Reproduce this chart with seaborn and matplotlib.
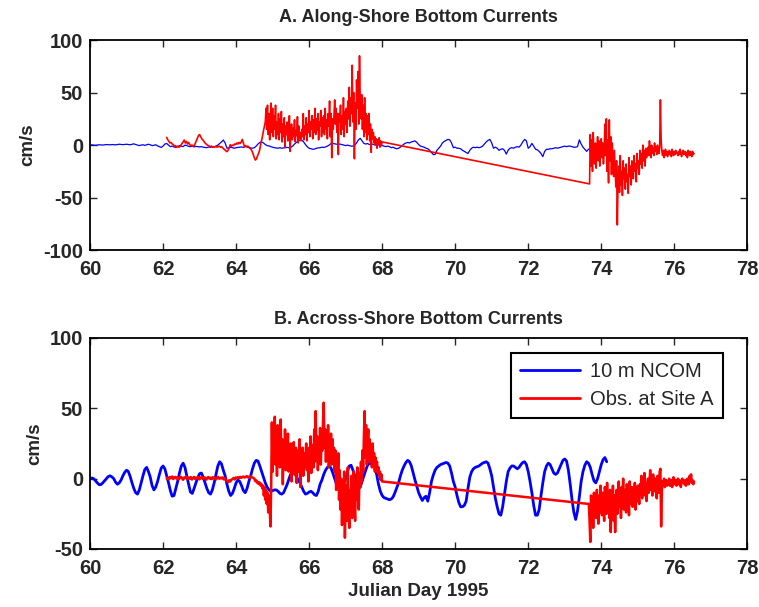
import numpy as np
import pandas as pd
import matplotlib
matplotlib.use("Agg")
import matplotlib.pyplot as plt
import seaborn as sns

# ---------------- data (cm/s) ----------------
# Along-shore NCOM (blue, panel A), sampled every 0.05 day from day 60.00
along_ncom_start, along_ncom_step = 60.0, 0.05
along_ncom = [
    0, 0.2, 0, -0.3, 0, 0.3, 0.2, 0, 0.3, 0.5, 0.3, 0.2, 0.5, 0.4, 0.2, 0.5, 0.8, 0.6, 0.4, 0.6,
    0.8, 0.5, 0.3, 0.7, 1.2, 0.5, 0, -0.5, 0, 0.3, -0.3, 0.2, 0.8, 0.3, -0.5, -0.2, 0.3, -0.8, -1.5, -2.2,
    -1, 1, 1.5, 0, -1.5, -1, -1.8, -2.2, -1.5, -0.5, -1, -1.5, 0, -0.5, -1.2, -1.5, -1, -1.8, -1.2, -1.5,
    -1.8, -1.5, -2, -2.2, -2.5, -1.8, -2.2, -1.5, -2, -1, 0, 1.5, 3, 4.8, 2, -3, -2.5, -2, -2.5, -3,
    -2.5, -2.2, -2, -1.8, -2.2, -1.5, -1.8, -2.5, -2.8, -3, -2.5, -1, 1, 2.5, 3, 2, 0.5, -0.5, -0.8, -1.5,
    -2, -2.5, -2.8, -3, -2.5, -3, -2.8, -2.5, -2.2, -2.5, -2, -1, 1, 2.5, 3.8, 4.5, 4.8, 3, 0.5, -1.6,
    -3, -3.5, -4, -3.8, -3, -2.8, -2.5, -2, -2.2, -1.8, -1, 0, 1.5, 1.6, 1.2, 0.8, 1, 0.9, 0.5, 0,
    -0.5, 0, -0.5, -1, -1, 0, 2, 5, 6.4, 4, 1.6, 1, 1.5, 0.5, 1, 0.8, 0, 0.5, 0, -0.5,
    -0.5, -1, -1.5, -1, -1.5, -2.5, -2, -3, -3.5, -3, -2, -0.5, 1, 2, 2.5, 2, 3, 3.5, 4, 2.5,
    0.5, -1, -1.5, -2, -3, -3.5, -5, -7, -9, -9, -5, -3, -1, 2, 3.5, 4.5, 5.4, 5, 2, -2.5,
    -2, -3, -3, -3.5, -5, -6, -7, -8, -5, -3, -2, -2.5, -2, -2.5, -2, -1, 1, 3, 4.5, 5.4,
    2, -3, -2, -3, -5, -4, -3.5, -5, -8.6, -5, -3, -2.5, -3, -2, -1.5, -2, 0, 3, 5.4, 4,
    -3, -1.5, 1.6, -1, -4, -4.5, -6, -8, -11, -6, -4, -4, -3.5, -3.5, -3, -2.5, -3, -2.5, -2, -1.5,
    -1, -1.5, -1, -1, -1.5, -2, -2, -1.5, 5, 1, -2, -4, -6, -4, -3, -2, -1, 0, 1.6, 0.5,
    -1, -2,
]

# Along-shore observations (red, panel A): three sampled stretches
along_obs1_start, along_obs1_step = 62.10, 0.03
along_obs1 = [
    7.3, 5, 3.5, 2, 2.5, 1, 0.5, -1, -0.5, -2, -1, -2, -1.5, 0, 1.5, 3, 4.8, 2, 3.5, 1,
    2.5, 0.5, -0.5, 0, -1, -0.5, 1.5, 4, 6.5, 9, 10, 8, 6, 5, 3.5, 2, 1, 0, -0.5, -1,
    -1.5, -1, -2, -1.5, -1.8, -1.2, -2, -1.5, -1, -2, -1.5, -2.5, -3.5, -4.5, -5.5, -6.3, -5, -3, 0.3, -1,
    0, -0.5, 1, 0.5, 2, 1, 2.5, 1.5, 3, 5.4, 2, -1.6, -0.5, -1.5, -1, -2, -3, -4, -6, -9,
    -12, -14.3, -13, -10, -7.6, -4, 2, 6, 12, 17, 22,
]
along_obs2_start, along_obs2_step = 64.82, 0.02
along_obs2 = [
    35, 15, 38, 10, 30, 5, 25, 40, 12,
    35, 8, 28, 15, 38, 6, 22, 10, 30, 5,
    25, 12, 32, 3, 20, 8, 26, -2, 18, 10,
    22, 4, 15, 28, -6, 12, 20, 5, 16, 8,
    24, 3, 14, 9, 27, 2, 18, 6, 12, 4,
    15, 8, 30, 5, 18, 10, 26, 4, 20, 12,
    33, 8, 22, 15, 28, 6, 24, 12, 35, 10,
    25, 14, 30, 5, 22, 18, 33, 8, 26, 12,
    28, 10, 35, 15, 24, 6, 30, 18, 42, 8,
    30, -12, 25, 15, 28, 43, 20, 35, 12, 30,
    -9, 30, 22, 38, 10, 28, 15, 45, 8, 32,
    20, 35, 12, 42, 25, 55, 18, 45, 30, 76,
    22, 50, -13, 40, 15, 62, 35, 70, 20, 85,
    40, 25, 48, 15, 38, 8, 45, 12, 30, 5,
    28, 10, 30, 4, 20, -7, 15, 6, 12, 2,
    8, 0, 6, -3, 5, 1, 7, -2, 4, 0,
    3,
]
along_obs3_start, along_obs3_step = 73.68, 0.02
along_obs3 = [
    -37, 10, -20, 5, -25, 12, -8, -18, 2, -22,
    -5, 8, -15, 4, -20, -2, 6, -12, 2, -18,
    -6, 20, -10, 25, -25, 5, -36, 24, -15, 8,
    -28, 2, -12, -30, -5, -22, -40, -15, -76, -35,
    -20, -45, -10, -38, -25, -48, -15, -32, -22, -42,
    -18, -35, -28, -46, -12, -30, -20, -38, -15, -28,
    -32, -10, -25, -18, -35, -8, -22, -15, -28, -5,
    -18, -8, -22, 0, -15, -5, -20, -3, -12, -8,
    -2, -10, 4, -6, -12, 0, -8, -3, -10, 2,
    -6, -2, -9, 0, -5, -8, -2, 43, 5, -6,
    -10, -5, -12, -7, -4, -10, -6, -11, -8, -5,
    -9, -6, -11, -4, -8, -10, -6, -9, -5, -8,
    -7, -10, -6, -9, -4, -8, -11, -7, -5, -9,
    -8, -6, -10, -7, -12, -5, -8, -10, -6, -9,
    -11, -6, -9, -8,
]

# Across-shore NCOM (blue, panel B), sampled every 0.05 day from day 60.00
across_ncom_start, across_ncom_step = 60.0, 0.05
across_ncom = [
    0, 0.5, 0, -1.5, -3, -4.3, -4.2, -3, -1.5, 0, 1.5, 2, 1.2, 0, -2.5, -4, -3, -1, 2, 4.5,
    6, 5, 1.5, -3, -7, -10, -11, -8, -3, 2, 6.5, 8, 5, 1, -5, -8, -6, -2, 3, 7.5,
    9, 7, 2, -3, -8.5, -12.5, -12, -7, -2, 4, 9, 11, 8, 2, -4, -9.5, -10.5, -7, -3, 0.5,
    3.5, 4, 1, -3, -7, -10, -11, -8, -3, 3, 9, 12, 10.5, 6, 2, -4, -9, -12, -10.5, -7,
    -3, -1, -2, -5, -8.5, -10, -7, -2, 2, 7, 11, 13, 12.5, 9, 5, 1, -3, -6, -8, -9,
    -8.5, -8, -8, -9, -10.5, -11, -10, -7, -4, 0, 3.5, 5, 4, 1.5, -1, -3, -6, -9, -11, -10.5,
    -9.5, -9, -10, -11.5, -12, -9, -4, -1, 3, 6, 8, 9, 7.5, 4, 0, -4, -7.5, -9, -6, -3,
    0, 5, 9, 9.5, 6, 2, -3, -7, -6, -2, 2, 6, 9.5, 11, 10.5, 9.5, 8, 3, -4, -9,
    -12, -13.5, -14, -14.5, -15, -14.5, -13, -10, -6.5, -3, 2, 6, 9, 11.5, 13, 12, 9, 4, -1, -5.5,
    -10, -13, -15.5, -13.5, -12.5, -16, -10, -2, 2.5, 6, 8, 9, 10, 10.5, 11, 11.5, 11, 9, 4, -2,
    -6, -12, -17, -20, -20, -19, -16, -7, 1, 5, 7, 8, 8.5, 9, 10, 11, 11.5, 12, 11, 7,
    2, -6, -14, -20, -25, -26, -20, -11, -2, 5, 7.5, 9, 9, 8, 7, 8, 10, 11.5, 12, 10,
    5, -2, -10, -19, -26, -26, -22, -12, -3, 5, 9, 11, 10, 7, 4, 3, 4, 7, 10, 13,
    14, 12.5, 6, -4, -15, -24, -29, -23, -13, -2, 5, 9.5, 12, 11, 8, 3, -1.5, -3, 0, 5,
    10, 13.5, 15, 12,
]

# Across-shore observations (red, panel B)
across_obs1_start, across_obs1_step = 62.10, 0.03
across_obs1 = [
    0, 0.8, -0.5, 1.2, 0.3, 1.5, -0.3, 0.8, 1.2, 0,
    1, -0.5, 0.6, 1.3, 0.2, -0.8, 0.9, 0.4, 1.4, -0.2,
    0.8, 0, 1.1, -0.6, 0.5, 1.2, -0.3, 0.7, 0.2, 1,
    -0.5, 0.6, 1.3, -0.2, 0.4, 0.9, -0.8, 0.3, 1.1, 0,
    0.7, -0.4, 1, 0.2, 0.8, -0.6, 0.5, 1.2, -0.1, 0.6,
    0.2, 0.9, -0.5, 0.4, -1, -1.8, -2.5, -1.2, -2, -0.8,
    -0.3, 0.5, -0.6, 0.8, 0.2, 1, 0.4, 1.3, 0.6, 1.1,
    1.5, 0.8, 1.2, 1.8, 0.9, 1.4, 0.6, 1.6, 1, 0.5,
    0,
]
across_obs2_start, across_obs2_step = 64.52, 0.02
across_obs2 = [
    -1.5, -1, -2.5, -2, -3.5, -2.5, -4, -3, -5,
    -4, -7, -5, -12, -6, -15, -8, -18, -10, -24,
    -12, -20, -34, -8, 40, 5, 35, 15, 44, 10,
    30, 2, 38, 18, 25, 8, 42, 14, 28, -4,
    22, 10, 35, 6, 28, 15, 32, 5, 20, 12,
    25, -2, 18, 8, 26, 3, 15, 22, -3, 12,
    20, 5, 28, -6, 15, 10, 22, 2, 18, 8,
    14, 25, 6, 18, -2, 22, 10, 30, 4, 16,
    24, 8, 35, 12, 48, 15, 30, 6, 26, 18,
    36, 10, 28, 20, 40, 54, 22, 35, 12, 30,
    18, 38, 8, 26, 15, 32, 10, 28, 14, 22,
    5, 20, -8, 15, 2, 18, -15, 6, -22, 0,
    -33, -10, -25, 5, -42, -15, -5, -30, 8, -20,
    -35, -8, -22, 2, -28, -12, 5, -18, -30, -3,
    -15, 8, -10, -22, 4, -6, 12, -2, 20, 5,
    30, 48, 15, 38, 10, 25, 35, 12, 28, 18,
    22, 8, 25, 12, 18, 5, 15, 10, 12, 4,
    8, 2, 5, -1, 3, -2,
]
across_obs3_start, across_obs3_step = 73.66, 0.02
across_obs3 = [
    -18, -30, -45, -12, -25, -15, -35, -10, -22, -18,
    -28, -8, -20, -32, -12, -24, -5, -18, -26, -10,
    -20, -30, -6, -15, -25, -3, -22, -12, -28, -8,
    -38, -15, -22, -5, -30, -12, -38, -18, -8, -25,
    -14, -2, -20, -10, -28, -6, -16, 0, -22, -12,
    -8, -24, -4, -15, -10, -26, -2, -18, -12, -6,
    -20, -8, -14, -3, -22, -10, -16, -5, -12, -18,
    -4, -10, 2, -14, -6, -8, 4, -12, -3, -16,
    -6, 0, -10, -4, 6, -8, -2, -12, 3, -5,
    -9, 0, -6, -14, 2, -4, -10, 5, 7, -34,
    -8, -2, -5, 0, -6, -3, -1, -5, -2, -4,
    0, -5, -3, -1, -6, -2, 1, -4, -3, -1,
    -5, -2, 0, -4, -1, -3, -6, -2, 0, -3,
    -2, -4, -1, -5, -3, 0, -2, -4, 2, -1,
    3, -3, -1, -4, -2,
]

titles = ["A. Along-Shore Bottom Currents", "B. Across-Shore Bottom Currents"]
legend_labels = ["10 m NCOM", "Obs. at Site A"]
x_ticks = list(range(60, 80, 2))
yticks_a = [-100, -50, 0, 50, 100]
yticks_b = [-50, 0, 50, 100]


def sampled(start, step, values):
    t = start + step * np.arange(len(values))
    return pd.DataFrame({"day": np.round(t, 4), "v": values})


def joined(*parts):
    return pd.concat([sampled(*p) for p in parts], ignore_index=True)


df_a_ncom = sampled(along_ncom_start, along_ncom_step, along_ncom)
df_a_obs = joined((along_obs1_start, along_obs1_step, along_obs1),
                  (along_obs2_start, along_obs2_step, along_obs2),
                  (along_obs3_start, along_obs3_step, along_obs3))
df_b_ncom = sampled(across_ncom_start, across_ncom_step, across_ncom)
df_b_obs = joined((across_obs1_start, across_obs1_step, across_obs1),
                  (across_obs2_start, across_obs2_step, across_obs2),
                  (across_obs3_start, across_obs3_step, across_obs3))

# ---------------- style ----------------
sns.set_theme(style="ticks")
plt.rcParams["font.family"] = ["Liberation Sans", "DejaVu Sans"]
plt.rcParams["axes.unicode_minus"] = False
plt.rcParams["axes.linewidth"] = 1.3
plt.rcParams["xtick.direction"] = "in"
plt.rcParams["ytick.direction"] = "in"

fig = plt.figure(figsize=(7.59, 6.07), dpi=100)
ax1 = fig.add_axes([0.1186, 0.588, 0.866, 0.346])
ax2 = fig.add_axes([0.1186, 0.0956, 0.866, 0.3476])

BLUE, RED = "#0000FF", "#FF0000"

sns.lineplot(data=df_a_ncom, x="day", y="v", ax=ax1, color=BLUE, lw=0.9,
             estimator=None, sort=False)
sns.lineplot(data=df_a_obs, x="day", y="v", ax=ax1, color=RED, lw=1.2,
             estimator=None, sort=False)

sns.lineplot(data=df_b_ncom, x="day", y="v", ax=ax2, color=BLUE, lw=2.0,
             estimator=None, sort=False, label=legend_labels[0])
sns.lineplot(data=df_b_obs, x="day", y="v", ax=ax2, color=RED, lw=1.8,
             estimator=None, sort=False, label=legend_labels[1])

for ax, title, yt, tpad in ((ax1, titles[0], yticks_a, 13), (ax2, titles[1], yticks_b, 10)):
    ax.set_xlim(60, 78)
    ax.set_ylim(yt[0], yt[-1])
    ax.set_xticks(x_ticks)
    ax.set_yticks(yt)
    ax.tick_params(axis="both", which="both", direction="in", top=True, right=True,
                   length=5, width=1.0, labelsize=14.5, pad=5)
    ax.tick_params(axis="x", pad=7)
    for lab in ax.get_xticklabels() + ax.get_yticklabels():
        lab.set_fontweight("bold")
    ax.set_title(title, fontsize=13, fontweight="bold", pad=tpad)
    ax.set_ylabel("cm/s", fontsize=13.5, fontweight="bold", labelpad=5)
    ax.set_xlabel("")
    for s in ax.spines.values():
        s.set_visible(True)
        s.set_color("black")

ax2.set_xlabel("Julian Day 1995", fontsize=13.5, fontweight="bold", labelpad=4)

leg = ax2.legend(loc="upper right", bbox_to_anchor=(0.978, 0.976), fontsize=14.5,
                 frameon=True, fancybox=False, edgecolor="black", framealpha=1,
                 handlelength=3.0, borderpad=0.45, labelspacing=0.45, handletextpad=0.5)
leg.get_frame().set_linewidth(1.5)
for line in leg.get_lines():
    line.set_linewidth(2.0)

fig.savefig("out.png", dpi=100)
